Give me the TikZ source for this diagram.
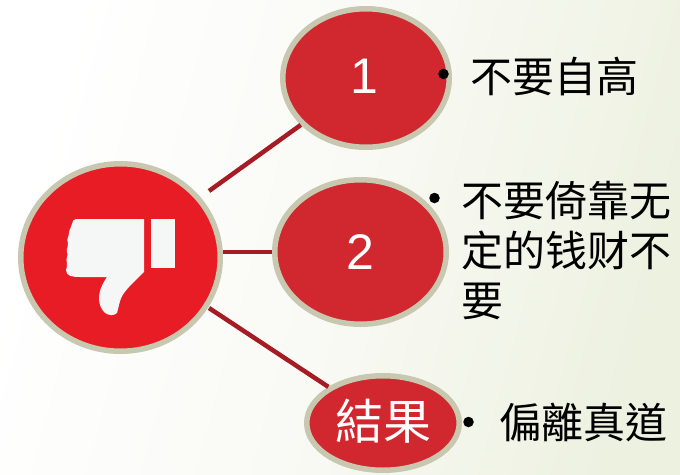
\documentclass[tikz,border=0pt]{standalone}
\usepackage{fontspec}
\setmainfont{Liberation Sans}
\newfontfamily\cjk{Noto Sans CJK TC}
\newfontfamily\cjksc{Noto Sans CJK SC}
\usetikzlibrary{shapes.geometric}
\definecolor{ringc}{HTML}{C8C7B0}
\definecolor{bigred}{HTML}{E81C24}
\definecolor{softred}{HTML}{D0282E}
\definecolor{linkc}{HTML}{A51C24}
\definecolor{thumbc}{HTML}{F5F6F6}
\definecolor{bgright}{HTML}{EDF1E0}
\definecolor{bgmid}{HTML}{F9FAF5}
\tikzset{
  blob/.style={ellipse,draw=ringc,line width=5.5pt,inner sep=0pt,text=white,fill=softred},
  linkline/.style={draw=linkc,line width=4.5pt},
  dotmark/.style={circle,fill=black,inner sep=0pt,minimum size=10.5pt},
  saying/.style={anchor=west,inner sep=0pt,text=black,align=left,font=\cjksc\fontsize{42}{50}\selectfont},
  digit/.style={font=\fontsize{50}{50}\selectfont}
}
\begin{document}
\begin{tikzpicture}[x=1pt,y=-1pt]
\useasboundingbox (0,0) rectangle (680,474);
\shade[left color=white,right color=bgright,middle color=bgmid,shading angle=75] (0,0) rectangle (680,474);
\node[blob,fill=bigred,minimum width=199.5pt,minimum height=187.5pt] (big) at (120.5,257.5) {};
\node[blob,minimum width=166.5pt,minimum height=138.5pt] (one) at (366,78) {};
\node[blob,minimum width=171.5pt,minimum height=144.5pt] (two) at (360.5,252) {};
\node[blob,minimum width=152.5pt,minimum height=94.5pt] (three) at (383,423) {};
\node[digit,text=white] (n1) at (364.5,76) {1};
\node[digit,text=white] (n2) at (360,252) {2};
\node[text=white,inner sep=0pt,font=\cjk\fontsize{48}{48}\selectfont] (n3) at (383,421) {結果};
\coordinate (a1) at (209,191);
\coordinate (a2) at (223,252);
\coordinate (a3) at (209,308);
\draw[linkline] (a1) -- (one);
\draw[linkline] (a2) -- (two);
\draw[linkline] (a3) -- (three);
% thumb
\fill[thumbc] (150.7,219) rectangle (175,268.3);
\fill[thumbc] (76,219) -- (144,219) -- (144,272)
  .. controls (137,279) and (130,285) .. (124,293)
  .. controls (119,300) and (119,307) .. (117,313)
  .. controls (114,316) and (108,316) .. (104,312)
  .. controls (98,305) and (98,296) .. (101,288)
  .. controls (103,283) and (105,280) .. (107,277)
  -- (80,277) .. controls (72,277) and (66,276) .. (66,270)
  .. controls (66,268) and (68,266) .. (67,263)
  .. controls (65,258) and (69,256) .. (67,252)
  .. controls (66,248) and (69,246) .. (68,243)
  .. controls (66,239) and (69,237) .. (69,233)
  .. controls (69,229) and (72,227) .. (72,224)
  .. controls (72,221) and (74,219) .. (76,219) -- cycle;
\node[dotmark] (d1) at (443.5,74) {};
\node[dotmark] (d2) at (434.5,198) {};
\node[dotmark] (d3) at (468.5,422) {};
\node[saying] (t1) at (470,76) {不要自高};
\node[saying] (t2) at (461,251) {不要倚靠无\\定的钱财不\\要};
\node[saying,font=\cjk\fontsize{42}{50}\selectfont] (t3) at (499,423) {偏離真道};
\end{tikzpicture}
\end{document}
